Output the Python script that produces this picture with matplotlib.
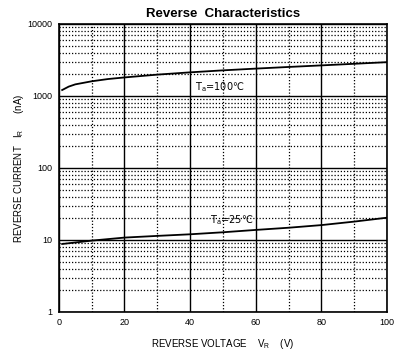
import numpy as np
import matplotlib
matplotlib.use('Agg')
import matplotlib.pyplot as plt
from matplotlib.ticker import LogLocator, FixedLocator, NullFormatter

plt.rcParams['font.family'] = ['Liberation Sans', 'DejaVu Sans']

# reverse voltage (V) vs reverse current (nA)
v_100 = [1, 3, 5, 10, 15, 20, 30, 40, 50, 60, 70, 80, 90, 100]
ir_100 = [1210, 1350, 1450, 1600, 1720, 1810, 1980, 2130, 2270, 2400, 2530, 2660, 2800, 2950]

v_25 = [1, 10, 20, 30, 40, 50, 60, 70, 80, 90, 100]
ir_25 = [8.8, 9.8, 10.8, 11.4, 12.0, 12.8, 13.8, 14.8, 16.1, 18.0, 20.4]

x_ticks = [0, 20, 40, 60, 80, 100]
x_minor = [10, 30, 50, 70, 90]
y_ticks = [1, 10, 100, 1000, 10000]

fig = plt.figure(figsize=(4.06, 3.58), dpi=100)
ax = fig.add_axes([0.145, 0.1285, 0.808, 0.8045])

ax.plot(v_100, ir_100, color='black', lw=1.3)
ax.plot(v_25, ir_25, color='black', lw=1.3)

ax.set_yscale('log')
ax.set_xlim(0, 100)
ax.set_ylim(1, 10000)
ax.set_xticks(x_ticks)
ax.set_xticklabels([str(t) for t in x_ticks])
ax.xaxis.set_minor_locator(FixedLocator(x_minor))
ax.set_yticks(y_ticks)
ax.set_yticklabels([str(t) for t in y_ticks])
ax.yaxis.set_minor_locator(LogLocator(base=10, subs=np.arange(2, 10)))
ax.yaxis.set_minor_formatter(NullFormatter())

ax.grid(which='major', color='black', lw=1.0, ls='-')
ax.grid(which='minor', color='black', lw=0.9, ls=(0, (1, 1.5)))
ax.tick_params(which='both', length=0, labelsize=6.5, pad=4.5)
for s in ax.spines.values():
    s.set_linewidth(1.2)

ax.text(41.5, 1330, r'T$_{\mathregular{a}}$=100℃', fontsize=7, ha='left', va='center',
        family='DejaVu Sans')
ax.text(46, 19, r'T$_{\mathregular{a}}$=25℃', fontsize=7, ha='left', va='center',
        family='DejaVu Sans')

ax.set_title('Reverse  Characteristics', fontsize=9.5, fontweight='bold', pad=5)
ax.set_xlabel(r'REVERSE VOLTAGE    V$_{\mathregular{R}}$    (V)', fontsize=7, labelpad=7)
ax.set_ylabel(r'REVERSE CURRENT   I$_{\mathregular{R}}$      (nA)', fontsize=7, labelpad=1)

fig.savefig('out.png', dpi=100)
